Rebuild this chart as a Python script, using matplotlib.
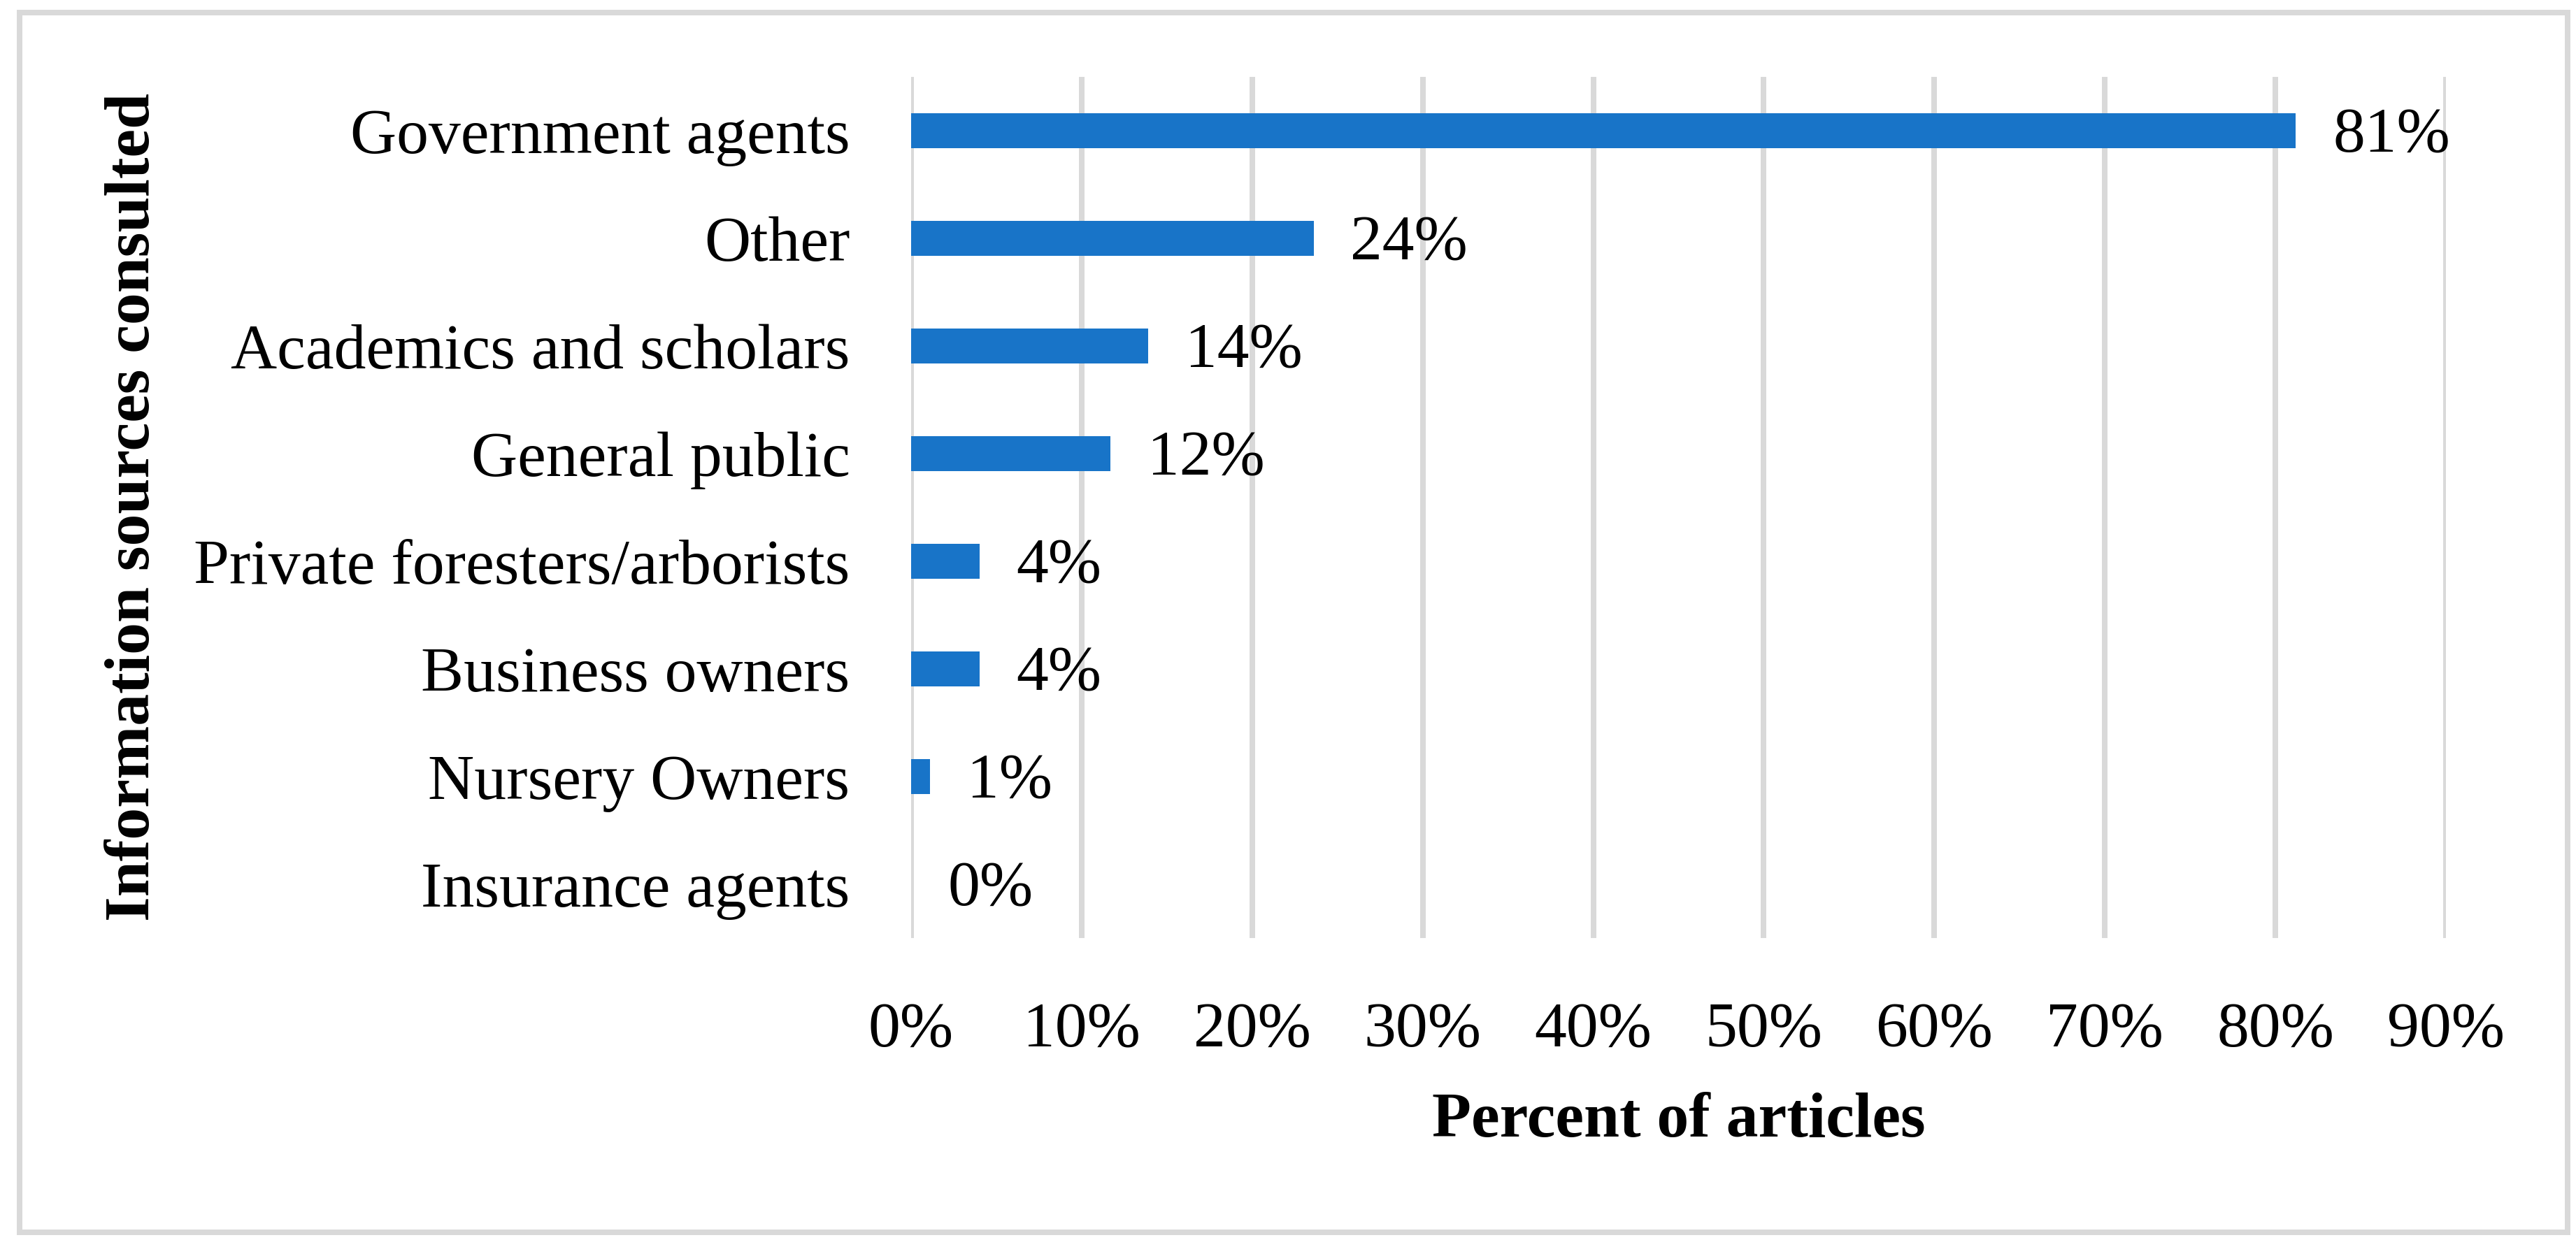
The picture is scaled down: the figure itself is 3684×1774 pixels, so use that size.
import matplotlib
matplotlib.use("Agg")
import matplotlib.pyplot as plt
from matplotlib.patches import Rectangle
import numpy as np

# Datos del gráfico (de arriba hacia abajo)
fuentes = [
    "Government agents",
    "Other",
    "Academics and scholars",
    "General public",
    "Private foresters/arborists",
    "Business owners",
    "Nursery Owners",
    "Insurance agents",
]
porcentajes = [81.2, 23.6, 13.9, 11.7, 4.0, 4.0, 1.1, 0.0]
ticks_x = [0, 10, 20, 30, 40, 50, 60, 70, 80, 90]

AZUL = "#1874c8"
GRIS = "#d9d9d9"

plt.rcParams["font.family"] = ["Liberation Serif", "DejaVu Serif"]

W, H, DPI = 3684, 1774, 300
fig = plt.figure(figsize=(W / DPI, H / DPI), dpi=DPI)
ax = fig.add_axes([1303 / W, 1 - 1342 / H, 2195 / W, 1232 / H])

y = np.arange(len(fuentes))
ax.barh(y, porcentajes, height=0.32, color=AZUL, zorder=3)

# Etiquetas de valor a la derecha de cada barra
for i, v in enumerate(porcentajes):
    ax.annotate(f"{v:.0f}%", xy=(v, i), xytext=(12.7, -2),
                textcoords="offset points", va="center", ha="left",
                fontsize=22)

ax.set_xlim(0, 90)
ax.set_ylim(len(fuentes) - 0.5, -0.5)
ax.set_xticks(ticks_x)
ax.set_xticklabels([f"{t}%" for t in ticks_x], fontsize=22)
ax.set_yticks(y)
ax.set_yticklabels(fuentes, fontsize=22)
ax.tick_params(axis="both", length=0)
ax.tick_params(axis="y", pad=21)
ax.tick_params(axis="x", pad=22)

ax.grid(axis="x", color=GRIS, linewidth=1.92, zorder=0)
ax.set_axisbelow(True)
for s in ax.spines.values():
    s.set_visible(False)

ax.set_xlabel("Percent of articles", fontsize=22, fontweight="bold", va="center")
ax.xaxis.set_label_coords(0.5, -0.2127)
ax.set_ylabel("Information sources consulted", fontsize=22, fontweight="bold", va="center")
ax.yaxis.set_label_coords(-0.5066, 0.5)

# Marco gris alrededor de la figura
fig.patches.append(Rectangle((28 / W, 1 - 1763 / H), (3672 - 28) / W, (1763 - 18) / H,
                             transform=fig.transFigure, fill=False,
                             edgecolor=GRIS, linewidth=1.92))

fig.savefig("out.png", dpi=DPI)
